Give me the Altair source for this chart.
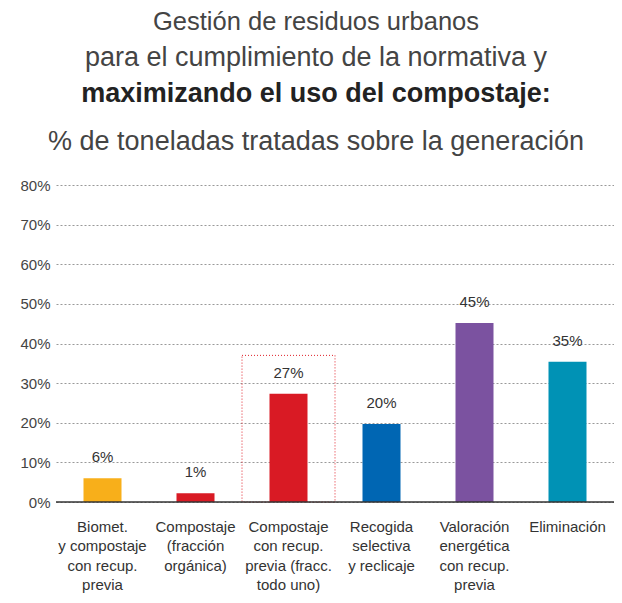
import altair as alt
import pandas as pd

categories = [
    "Biomet.\ny compostaje\ncon recup.\nprevia",
    "Compostaje\n(fracción\norgánica)",
    "Compostaje\ncon recup.\nprevia (fracc.\ntodo uno)",
    "Recogida\nselectiva\ny reclicaje",
    "Valoración\nenergética\ncon recup.\nprevia",
    "Eliminación",
]
values = [6.0, 2.2, 27.3, 19.7, 45.2, 35.4]
value_labels = ["6%", "1%", "27%", "20%", "45%", "35%"]
colors = ["#F8AF1A", "#D91A24", "#D91A24", "#0066B3", "#7B52A0", "#0092B5"]
highlight = [categories[2]]
y_ticks = [0, 10, 20, 30, 40, 50, 60, 70, 80]

title_line1 = "Gestión de residuos urbanos"
title_line2 = "para el cumplimiento de la normativa y"
title_bold = "maximizando el uso del compostaje:"
subtitle = "% de toneladas tratadas sobre la generación"

FONT = "Liberation Sans"
W, H = 558, 317
CX = 260

df = pd.DataFrame({"cat": categories, "val": values, "lab": value_labels, "col": colors})
yscale = alt.Scale(domain=[0, 80], nice=False)
xscale = alt.Scale(paddingInner=0, paddingOuter=0)

xaxis = alt.Axis(labelExpr="split(datum.label, '\\n')", labelAngle=0,
                 labelAlign="center",
                 labelFont=FONT, labelFontSize=15, labelColor="#333",
                 labelLineHeight=19.5, labelBaseline="top", labelPadding=17,
                 ticks=False, domain=False, labelLimit=200)
yaxis = alt.Axis(values=y_ticks, labelExpr="datum.value + '%'",
                 labelOverlap=False, tickCount=9,
                 labelFont=FONT, labelFontSize=15, labelColor="#444",
                 labelPadding=6, ticks=False, domain=False,
                 grid=True, gridColor="#999", gridDash=[2, 2], gridWidth=1)

def xenc():
    return alt.X("cat:N", sort=categories, title=None, scale=xscale, axis=xaxis)

def yenc():
    return alt.Y("val:Q", scale=yscale, title=None, axis=yaxis)

base = alt.Chart(df)
bars = base.mark_bar(size=38).encode(
    x=xenc(), y=yenc(), color=alt.Color("col:N", scale=None),
)
texts = base.mark_text(fontSize=15, font=FONT, color="#333", dy=-16, baseline="alphabetic").encode(
    x=xenc(), y=yenc(), text="lab:N")

zero = alt.Chart(pd.DataFrame({"val": [0]})).mark_rule(color="#333", strokeWidth=1.5).encode(
    y=yenc())

hl = alt.Chart(pd.DataFrame({"cat": highlight, "val": [37]})).mark_bar(
    fill=None, fillOpacity=0, stroke="#E0202A", strokeWidth=1, strokeDash=[1, 2], clip=False
).encode(x=xenc(), y=yenc(), y2=alt.value(H + 110))

def title_text(txt, y, size, weight, color):
    return alt.Chart(pd.DataFrame({"t": [txt]})).mark_text(
        font=FONT, fontSize=size, color=color, fontWeight=weight,
        baseline="alphabetic", align="center"
    ).encode(x=alt.value(CX), y=alt.value(y), text="t:N")

t1 = title_text(title_line1, -155, 25.5, "normal", "#444")
t2 = title_text(title_line2, -119, 27, "normal", "#444")
t3 = title_text(title_bold, -83, 27, "bold", "#222")
t4 = title_text(subtitle, -35, 27, "normal", "#444")

chart = alt.layer(bars, hl, zero, texts, t1, t2, t3, t4).properties(
    width=W, height=H,
    autosize=alt.AutoSizeParams(type="none"),
    padding={"left": 48, "top": 177, "right": 0, "bottom": 93},
).configure_view(stroke=None)

chart.save("out.html", embed_options={"renderer": "svg", "actions": False})
